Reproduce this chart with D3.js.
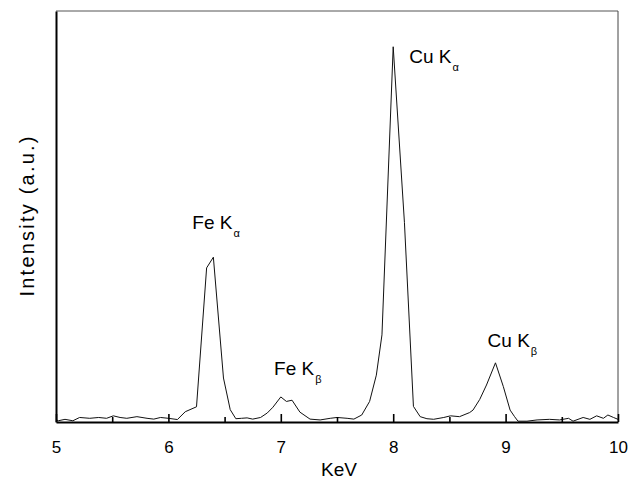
<!DOCTYPE html>
<html>
<head>
<meta charset="utf-8">
<script src="https://cdn.jsdelivr.net/npm/d3@7"></script>
<style>
  html, body { margin: 0; padding: 0; background: #fff; }
  svg { display: block; }
  text { font-family: Arial, "Liberation Sans", Helvetica, sans-serif; fill: #000; }
</style>
</head>
<body>
<svg id="chart" width="629" height="479"></svg>
<script>
// ---- data ----
const energyKeV = [
  5.00, 5.02, 5.08, 5.15, 5.21, 5.30, 5.38, 5.45, 5.51, 5.57, 5.63, 5.72, 5.81, 5.87, 5.93,
  6.00, 6.08, 6.15, 6.25, 6.34, 6.40, 6.49, 6.55, 6.60, 6.65, 6.70, 6.75, 6.82, 6.88, 6.93,
  7.00, 7.05, 7.10, 7.17, 7.26, 7.35, 7.44, 7.50, 7.59, 7.65, 7.72, 7.79, 7.85, 7.90,
  8.00, 8.10, 8.18, 8.24, 8.30, 8.36, 8.45, 8.51, 8.59, 8.68, 8.71, 8.77, 8.83, 8.91,
  8.98, 9.04, 9.08, 9.11, 9.19, 9.28, 9.39, 9.48, 9.56, 9.60, 9.69, 9.75, 9.81, 9.87,
  9.91, 9.96, 10.00
];
const intensity = [
  0.6, 0.3, 0.65, 0.3, 1.1, 0.9, 1.1, 0.9, 1.5, 1.1, 0.9, 1.3, 0.9, 0.7, 1.1,
  0.9, 0.6, 2.5, 3.7, 37.5, 40.1, 10.7, 3.0, 0.8, 0.9, 1.0, 0.7, 1.1, 2.2, 3.6,
  6.1, 5.0, 5.3, 2.4, 0.7, 0.5, 0.9, 1.1, 0.9, 0.7, 1.7, 5.0, 11.4, 21.2,
  91.3, 48.5, 3.8, 1.3, 0.8, 0.66, 1.1, 1.5, 1.3, 2.3, 2.9, 5.5, 9.0, 14.4,
  8.6, 2.9, 1.3, 0.2, 0.2, 0.5, 0.65, 0.5, 0.9, 0.2, 1.1, 0.65, 1.5, 0.9,
  1.7, 1.1, 0.65
];
const xMajorTicks = [5, 6, 7, 8, 9, 10];
const xMinorTicks = [5.5, 6.5, 7.5, 8.5, 9.5];
const peakLabels = ["Fe K", "Fe K", "Cu K", "Cu K"];
const peakSubs = ["α", "β", "α", "β"];
const peakLabelKeV = [6.213, 6.94, 8.143, 8.84];
const peakLabelIntensity = [47.0, 11.4, 87.3, 18.3];
const xTitle = "KeV";
const yTitle = "Intensity (a.u.)";

// ---- layout ----
const W = 629, H = 479;
const margin = { top: 11, right: 11, bottom: 57, left: 56 };
const svg = d3.select("#chart");
const x = d3.scaleLinear().domain([5, 10]).range([margin.left, W - margin.right]);
const y = d3.scaleLinear().domain([0, 100]).range([H - margin.bottom, margin.top]);

// frame (top/right thinner)
svg.append("line").attr("x1", x(5)).attr("x2", x(10)).attr("y1", y(100)).attr("y2", y(100))
  .attr("stroke", "#555").attr("stroke-width", 1);
svg.append("line").attr("x1", x(10)).attr("x2", x(10)).attr("y1", y(100)).attr("y2", y(0))
  .attr("stroke", "#444").attr("stroke-width", 1);

// data line
const line = d3.line().x((d, i) => x(energyKeV[i])).y(d => y(d));
svg.append("path").datum(intensity)
  .attr("d", line).attr("fill", "none").attr("stroke", "#111").attr("stroke-width", 1)
  .attr("stroke-linejoin", "miter");

// bottom axis
const xAxis = d3.axisBottom(x).tickValues(xMajorTicks).tickFormat(d3.format("d"))
  .tickSizeInner(-8).tickSizeOuter(0).tickPadding(19);
const gx = svg.append("g").attr("transform", `translate(0,${y(0)})`).call(xAxis);
gx.select(".domain").attr("stroke", "#000").attr("stroke-width", 2);
gx.selectAll(".tick line").attr("stroke", "#000").attr("stroke-width", 1.6);
gx.selectAll(".tick text").attr("font-size", 17).attr("font-family", "Arial, 'Liberation Sans', sans-serif").attr("fill", "#000");
const gMinor = svg.append("g").attr("transform", `translate(0,${y(0)})`)
  .call(d3.axisBottom(x).tickValues(xMinorTicks).tickFormat("").tickSizeInner(-5).tickSizeOuter(0));
gMinor.select(".domain").remove();
gMinor.selectAll(".tick line").attr("stroke", "#000").attr("stroke-width", 1.6);

// left axis (no ticks)
const gy = svg.append("g").attr("transform", `translate(${x(5)},0)`)
  .call(d3.axisLeft(y).tickValues([]).tickSizeOuter(0));
gy.select(".domain").attr("stroke", "#000").attr("stroke-width", 2);

// axis titles
svg.append("text").attr("x", (x(5) + x(10)) / 2 + 2).attr("y", 476)
  .attr("text-anchor", "middle").attr("font-size", 19).text(xTitle);
svg.append("text")
  .attr("transform", `translate(34,${(y(0) + y(100)) / 2}) rotate(-90)`)
  .attr("text-anchor", "middle").attr("font-size", 20)
  .attr("textLength", 160).attr("lengthAdjust", "spacing")
  .text(yTitle);

// peak labels
peakLabels.forEach((t, i) => {
  const tx = svg.append("text")
    .attr("x", x(peakLabelKeV[i])).attr("y", y(peakLabelIntensity[i]))
    .attr("font-size", 19);
  tx.append("tspan").text(t);
  tx.append("tspan").attr("dx", 1).attr("dy", 8).attr("font-size", 11).text(peakSubs[i]);
});
</script>
</body>
</html>
